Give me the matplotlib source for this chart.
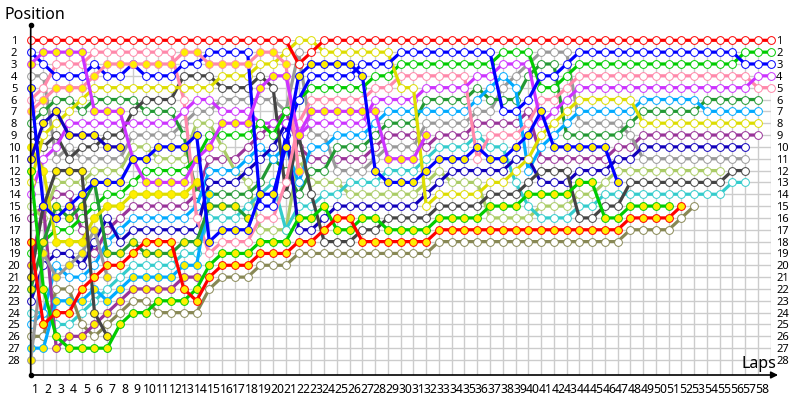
import numpy as np
import matplotlib
matplotlib.use('Agg')
import matplotlib.pyplot as plt

plt.rcParams['font.family'] = ['Noto Sans', 'DejaVu Sans']

## the data, position of each car per lap (index 0 is the grid)
red_h = [1,1,1,1,1,1,1,1,1,1,1,1,1,1,1,1,1,1,1,1,1,3,2,1,1,1,1,1,1,1,1,1,1,1,1,1,1,1,1,1,1,1,1,1,1,1,1,1,1,1,1,1,1,1,1,1,1,1,1]
green_h = [19,18,17,17,16,15,14,14,13,12,12,12,12,11,9,9,9,9,8,9,7,6,5,5,5,5,5,4,4,3,3,3,3,3,3,3,3,2,2,2,5,5,4,3,3,3,3,3,3,3,3,3,3,3,3,3,2,2,2]
blue_h = [2,3,4,4,4,3,4,4,3,4,4,4,3,3,2,2,2,2,15,15,9,6,4,4,4,4,3,3,3,2,2,2,2,2,2,2,2,7,7,6,4,4,3,2,2,2,2,2,2,2,2,2,2,2,2,2,3,3,3]
magenta_h = [14,11,10,8,8,8,8,8,8,8,8,8,7,6,6,7,7,7,8,8,8,9,8,8,8,8,8,6,6,6,6,5,5,5,5,4,4,3,3,3,8,7,6,5,5,5,5,5,5,5,5,5,5,5,5,5,5,4,4]
pink_h = [6,5,3,3,3,2,2,2,2,2,2,2,6,16,19,18,18,18,16,16,13,8,6,6,6,6,6,5,5,4,4,4,4,4,4,11,9,9,9,8,6,6,5,4,4,4,4,4,4,4,4,4,4,4,4,4,4,5,5]
sky_h = [25,24,20,21,21,20,18,17,16,16,16,16,16,15,12,12,12,11,10,11,10,13,10,10,9,9,9,8,7,7,7,7,7,7,7,6,5,4,5,12,10,9,8,7,7,7,7,7,6,6,6,6,6,7,7,7,7,7]
dgreen_h = [8,7,6,6,7,6,6,6,6,7,7,7,9,14,14,14,14,14,13,11,12,14,12,12,10,10,10,9,8,8,8,6,6,6,6,5,6,6,6,4,3,3,9,9,9,9,9,8,7,7,7,7,7,6,6,6,6,6]
yellow_h = [13,9,8,7,6,5,5,5,5,5,5,5,5,5,5,4,4,4,3,3,2,1,1,2,2,2,2,2,2,5,5,15,14,14,14,14,13,13,12,11,9,8,7,6,6,6,6,6,8,8,8,8,8,8,8,8,8,8]
dmag_h = [16,15,14,14,17,19,17,16,15,15,15,15,15,14,11,11,11,10,9,8,7,10,11,11,11,11,11,10,9,9,9,10,9,9,9,8,8,8,8,7,11,11,11,11,11,11,10,10,9,9,9,9,9,9,9,9,9,9]
gray_h = [4,4,11,10,11,11,11,11,9,9,9,9,8,7,7,6,6,6,6,6,7,2,9,9,12,12,12,11,10,10,10,8,8,8,8,7,7,5,4,3,2,2,2,8,8,8,8,9,11,11,11,11,11,11,11,11,11]
dblue_h = [23,20,19,19,20,18,16,18,17,17,17,17,17,17,13,13,13,12,11,10,8,17,17,16,15,15,15,15,15,15,15,14,13,12,12,12,12,12,11,11,13,13,13,12,12,12,11,11,10,10,10,10,10,10,10,10,10]
olive_h = [15,16,13,13,13,12,12,12,10,10,11,11,11,8,8,10,12,13,17,17,17,11,13,13,13,14,14,14,14,14,14,13,12,13,13,13,16,16,16,16,15,15,15,14,14,13,12,12,12,12,12,12,12,12,12]
black_h = [9,10,9,11,10,10,9,9,7,6,6,6,4,4,4,5,5,5,4,5,14,9,14,18,18,18,17,17,16,16,16,16,15,15,15,15,14,14,14,13,12,12,12,16,16,15,15,13,13,13,13,13,13,13,13,12,12]
teal_h = [24,24,25,25,24,23,22,21,20,20,20,20,19,19,16,16,16,15,14,13,17,15,15,14,14,13,13,13,12,12,12,11,10,10,10,9,10,10,13,15,16,16,16,15,15,14,14,14,14,14,14,14,14,14,14,13,13]
brown_h = [26,26,22,22,25,26,25,24,23,23,24,24,24,24,22,21,21,21,20,20,20,19,19,19,19,19,19,19,19,19,19,19,18,18,18,18,18,18,18,18,18,18,18,18,18,18,18,17,17,17,17,16,15]

blue_f = [5,15,16,15,14,13,13,13,11,11,10,10,10,9,18,17,17,17,14,14,10,4,3,3,3,3,4,12,13,13,13,12,11,11,11,10,11,11,10,9,7,10,10,10,10,10,13]
magenta_f = [3,2,2,2,2,7,7,7,11,13,13,13,13,11,10,8,8,8,5,4,4,9,7,7,7,7,7,7,11,11,11,9]
pink_f = [7,6,5,5,5,4,3,3,3,3,3,3,2,2,3,3,3,3,2,2,3,12]
green_f = [12,22,26,27,27,27,27,25,24,24,23,23,23,22,20,19,19,19,18,18,18,16,16,15,17,17,16,16,17,17,17,17,16,16,16,16,15,15,15,14,14,14,14,13,13,16,16,15,15,15,15]
red_f = [18,25,24,24,22,21,20,20,19,18,18,18,22,23,21,20,20,20,19,19,19,18,18,17,16,16,18,18,18,18,18,18,17,17,17,17,17,17,17,17,17,17,17,17,17,17,17,16,16,16,16,15]
black_f = [21,15,12,12,12,24,26]
yellow_f = [10,12,18,18,18,16,15,15,14,14,14,14,14,13]
dblue_f = [11,8,7,9,9,9,10,10]
gray_f = [28,19,21,20,19,17,21]
dgreen_f = [22,18,15,16,15,13,19,19,18,19,19,19,18,18,15,15,15,16]
dmag_f = [20,15,27,26,26,25,24,23,22,22,22,22,21,21]
sky_f = [27,27,23,23,23,22,23,22,21,21,21,21,20,20,14]

hollow_series = [
    (dmag_h, '#993399'), (olive_h, '#aacc66'), (teal_h, '#33cccc'), (brown_h, '#888855'),
    (gray_h, '#999999'), (dgreen_h, '#229933'), (sky_h, '#00aaff'), (dblue_h, '#1100bb'),
    (black_h, '#444444'), (pink_h, '#ff88aa'), (magenta_h, '#cc33ff'), (green_h, '#00cc00'),
    (yellow_h, '#dddd00'), (blue_h, '#0000ff'), (red_h, '#ff0000'),
]
filled_series = [
    (dmag_f, '#993399'), (sky_f, '#00aaff'), (gray_f, '#999999'), (dgreen_f, '#229933'),
    (yellow_f, '#dddd00'), (dblue_f, '#1100bb'), (pink_f, '#ff88aa'), (black_f, '#444444'),
    (green_f, '#00cc00'), (red_f, '#ff0000'), (magenta_f, '#cc33ff'), (blue_f, '#0000ff'),
]

lap_labels = [str(i) for i in range(1, 59)]
positions = list(range(1, 29))

## axes placed so lap 0 is x=30.7, lap 58 x=770.7, P1 y=40.3, P28 y=360
fig = plt.figure(figsize=(8, 4), dpi=100)
ax = fig.add_axes([30.7/800, 25/400, 740/800, 334.7/400])
ax.set_xlim(0, 58)
ax.set_ylim(28 + 15/11.84, 1)

for s in ax.spines.values():
    s.set_visible(False)

ax.set_xticks(np.arange(58) + 0.35)
ax.set_xticklabels(lap_labels, fontsize=8.8)
ax.set_xticks(np.arange(59), minor=True)
ax.set_yticks(positions)
ax.set_yticklabels(positions, fontsize=8, ha='center')
ax.tick_params(axis='x', length=0, pad=5.5)
ax.tick_params(axis='x', which='minor', length=0)
ax.tick_params(axis='y', length=0, pad=12)
ax.grid(True, which='minor', axis='x', color='#cccccc', lw=1.0)
ax.grid(True, which='major', axis='y', color='#cccccc', lw=1.0)
ax.set_axisbelow(True)

# right hand labels sit closer to the plot than the left ones
ax2 = ax.twinx()
ax2.set_ylim(ax.get_ylim())
ax2.set_yticks(positions)
ax2.set_yticklabels(positions, fontsize=8)
ax2.tick_params(axis='y', length=0, pad=4)
for s in ax2.spines.values():
    s.set_visible(False)

for pos, col in hollow_series:
    ax.plot(range(len(pos)), pos, '-o', color=col, lw=2.3, ms=5.6, mew=0.7,
            mfc='white', mec=col, clip_on=False)
for pos, col in filled_series:
    ax.plot(range(len(pos)), pos, '-o', color=col, lw=2.3, ms=5.6, mew=0.7,
            mfc='#ffee00', mec=col, clip_on=False)

# axis lines with arrow ends
ax.annotate('', xy=(0, 1.045), xycoords='axes fraction', xytext=(0, 0),
            arrowprops=dict(arrowstyle='-', color='black', lw=1.2, shrinkA=0, shrinkB=0))
ax.annotate('', xy=(1.01, 0), xycoords='axes fraction', xytext=(0, 0),
            arrowprops=dict(arrowstyle='-|>', color='black', lw=1.2, shrinkA=0, shrinkB=0))
ax.plot([0], [1.045], 'o', color='black', ms=3, transform=ax.transAxes, clip_on=False)
ax.plot([0], [0], 'o', color='black', ms=3, transform=ax.transAxes, clip_on=False)

fig.text(4/800, 1 - 15/400, 'Position', fontsize=11.5, va='center', ha='left')
fig.text(759/800, 1 - 364/400, 'Laps', fontsize=11.5, va='center', ha='center')

fig.savefig('out.png', dpi=100)
